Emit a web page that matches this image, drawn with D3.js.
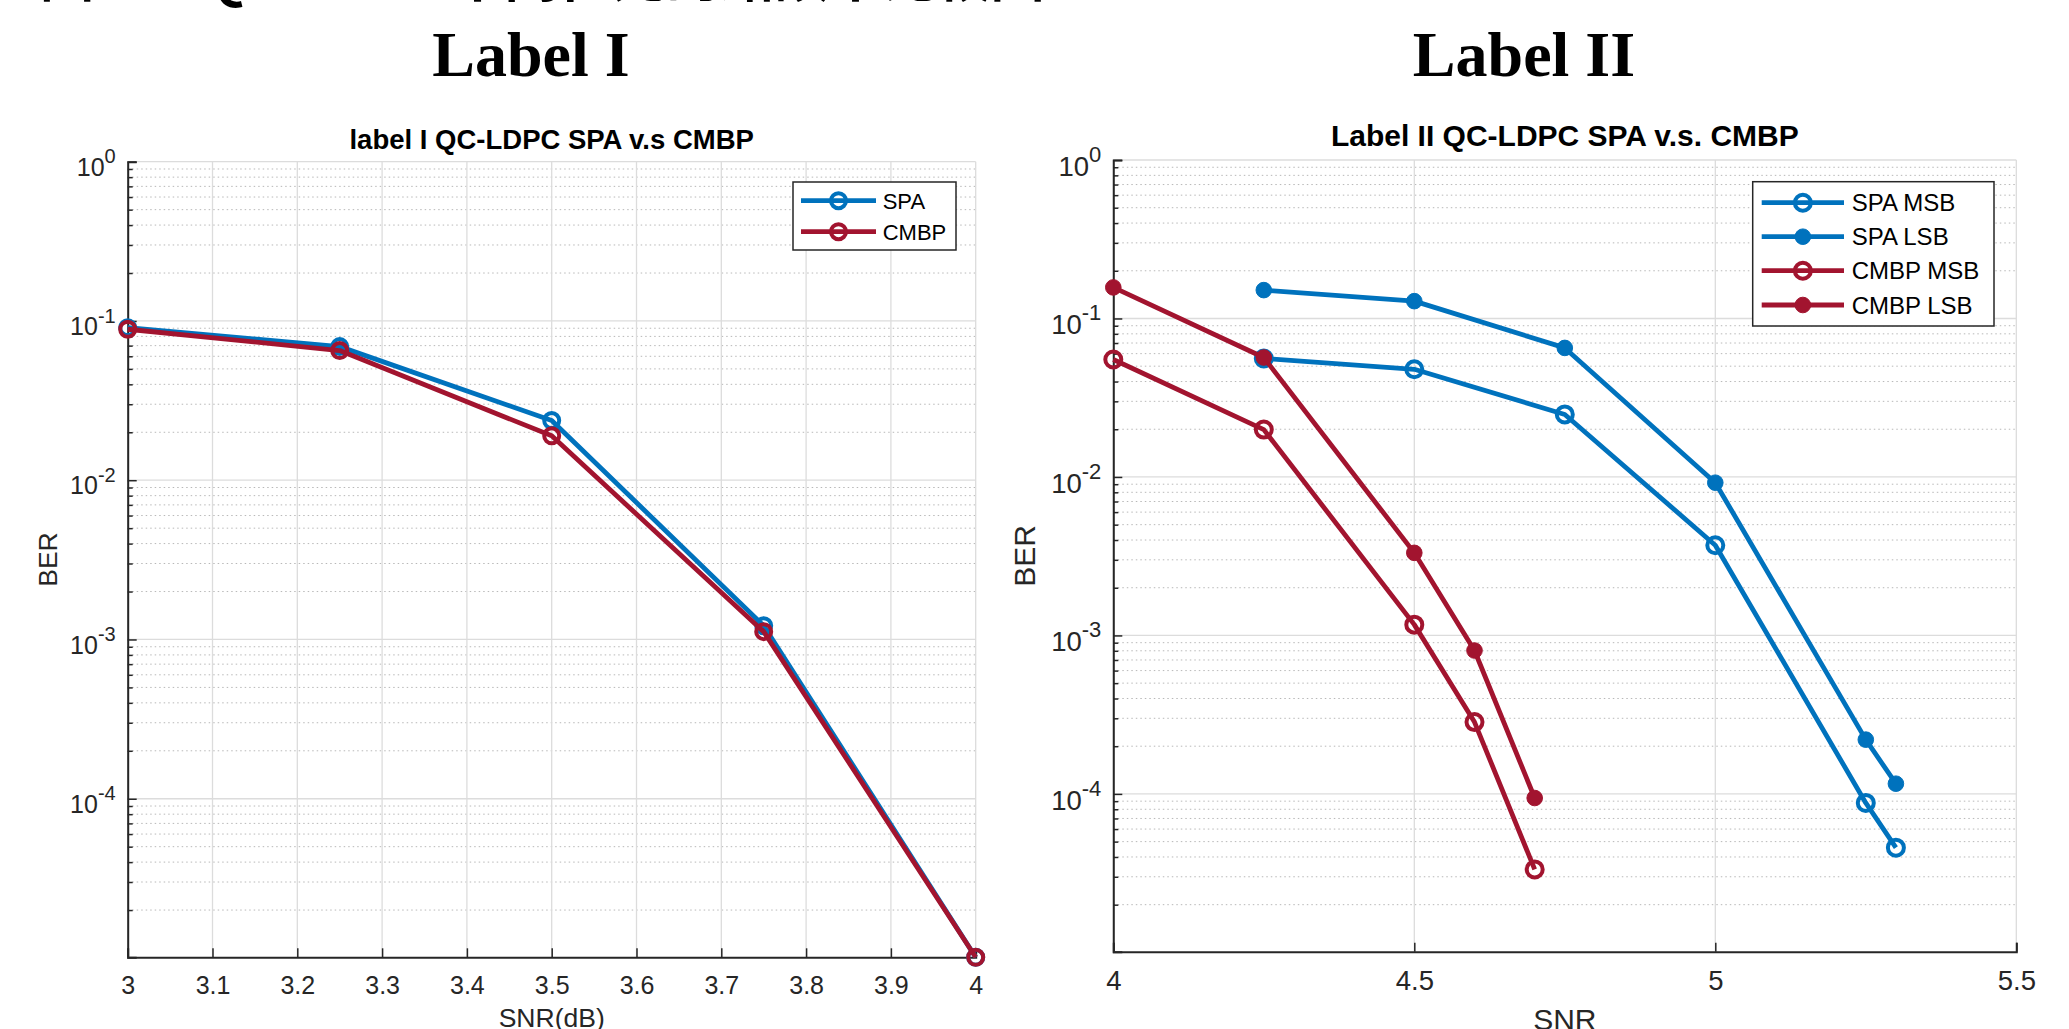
<!DOCTYPE html>
<html>
<head>
<meta charset="utf-8">
<script src="https://cdn.jsdelivr.net/npm/d3@7"></script>
<style>
  html, body { margin: 0; padding: 0; background: #fff; }
  svg { display: block; }
  .tick text { fill: #262626; }
</style>
</head>
<body>
<svg id="chart" width="2069" height="1029"></svg>
<script>
// ---- data ----
const leftSnr = [3, 3.25, 3.5, 3.75, 4];
const leftSpa = [0.0908, 0.0690, 0.0237, 1.22e-3, 1.01e-5];
const leftCmbp = [0.0887, 0.0652, 0.0190, 1.12e-3, 1.01e-5];
const leftXTicks = [3, 3.1, 3.2, 3.3, 3.4, 3.5, 3.6, 3.7, 3.8, 3.9, 4];

const spaSnr = [4.25, 4.5, 4.75, 5, 5.25, 5.3];
const spaMsb = [0.0559, 0.0478, 0.0248, 3.71e-3, 8.77e-5, 4.58e-5];
const spaLsb = [0.151, 0.1286, 0.0652, 9.2e-3, 2.2e-4, 1.16e-4];
const cmbpSnr = [4, 4.25, 4.5, 4.6, 4.7];
const cmbpMsb = [0.0551, 0.0199, 1.17e-3, 2.84e-4, 3.34e-5];
const cmbpLsb = [0.157, 0.0567, 3.32e-3, 8.03e-4, 9.42e-5];
const rightXTicks = [4, 4.5, 5, 5.5];

const berDomain = [1.01e-5, 1];
const decadeTicks = [1, 1e-1, 1e-2, 1e-3, 1e-4];

const BLUE = '#0072BD';
const RED = '#A2142F';
const INK = '#262626';
const SANS = 'Arial, "Liberation Sans", sans-serif';

const svg = d3.select('#chart');

// caption line that is cut off at the top edge of the page
svg.append('text')
  .attr('x', 40).attr('y', -3)
  .attr('font-family', '"Noto Sans CJK TC", "Liberation Serif", serif')
  .attr('font-weight', 700)
  .attr('font-size', 54)
  .attr('fill', '#000')
  .text('圖二、QC-LDPC 不同位元的錯誤率比較圖');

function drawPanel(opt) {
  const x = d3.scaleLinear().domain(opt.xDomain).range([opt.x0, opt.x1]);
  const y = d3.scaleLog().domain(berDomain).range([opt.y1, opt.y0]);
  const g = svg.append('g');

  // big header over the panel
  svg.append('text')
    .attr('x', opt.headerX).attr('y', 76)
    .attr('text-anchor', 'middle')
    .attr('font-family', '"Liberation Serif", "Times New Roman", serif')
    .attr('font-weight', 700)
    .attr('font-size', 64)
    .text(opt.header);

  // minor grid (dotted)
  const minors = [];
  decadeTicks.forEach(d => {
    for (let k = 2; k <= 9; k++) {
      const v = d * k / 10;
      if (v >= berDomain[0]) minors.push(v);
    }
  });
  g.append('g').selectAll('line').data(minors).join('line')
    .attr('x1', opt.x0).attr('x2', opt.x1)
    .attr('y1', d => y(d)).attr('y2', d => y(d))
    .attr('stroke', '#b8b8b8').attr('stroke-width', 1)
    .attr('stroke-dasharray', '1.5,3');

  // major grid
  g.append('g').selectAll('line').data(decadeTicks).join('line')
    .attr('x1', opt.x0).attr('x2', opt.x1)
    .attr('y1', d => y(d)).attr('y2', d => y(d))
    .attr('stroke', '#dcdcdc').attr('stroke-width', 1.3);
  g.append('g').selectAll('line').data(opt.xTicks).join('line')
    .attr('x1', d => x(d)).attr('x2', d => x(d))
    .attr('y1', opt.y0).attr('y2', opt.y1)
    .attr('stroke', '#dcdcdc').attr('stroke-width', 1.3);

  // x axis, ticks pointing inward
  const xAxis = g.append('g')
    .attr('transform', `translate(0,${opt.y1})`)
    .call(d3.axisBottom(x).tickValues(opt.xTicks).tickFormat(d3.format('')).tickSize(-9).tickPadding(opt.xPad));
  xAxis.select('.domain').attr('stroke', INK).attr('stroke-width', 2);
  xAxis.selectAll('.tick line').attr('stroke', INK).attr('stroke-width', 1.5);
  xAxis.selectAll('.tick text')
    .attr('font-family', SANS)
    .attr('font-size', opt.tickFont);

  // y axis minor ticks
  const yMinor = g.append('g')
    .attr('transform', `translate(${opt.x0},0)`)
    .call(d3.axisLeft(y).tickValues(minors).tickFormat('').tickSize(-5));
  yMinor.select('.domain').remove();
  yMinor.selectAll('.tick line').attr('stroke', INK).attr('stroke-width', 1.5);

  // y axis major ticks with 10^n labels
  const yAxis = g.append('g')
    .attr('transform', `translate(${opt.x0},0)`)
    .call(d3.axisLeft(y).tickValues(decadeTicks).tickFormat('').tickSize(-9));
  yAxis.select('.domain').attr('stroke', INK).attr('stroke-width', 2);
  yAxis.selectAll('.tick line').attr('stroke', INK).attr('stroke-width', 1.5);
  yAxis.selectAll('.tick text').each(function (d) {
    const t = d3.select(this)
      .attr('x', -opt.yPad).attr('dy', null).attr('y', opt.tickFont * 0.55)
      .attr('text-anchor', 'end')
      .attr('font-family', SANS)
      .attr('font-size', opt.tickFont);
    t.append('tspan').text('10');
    t.append('tspan')
      .attr('font-size', opt.tickFont * 0.8)
      .attr('dy', -opt.tickFont * 0.5)
      .text(Math.round(Math.log10(d)));
  });

  // title and axis labels
  svg.append('text')
    .attr('x', (opt.x0 + opt.x1) / 2).attr('y', opt.titleY)
    .attr('text-anchor', 'middle')
    .attr('font-family', SANS)
    .attr('font-weight', 700)
    .attr('font-size', opt.titleFont)
    .attr('fill', '#000')
    .text(opt.title);
  svg.append('text')
    .attr('x', (opt.x0 + opt.x1) / 2).attr('y', opt.xLabelY)
    .attr('text-anchor', 'middle')
    .attr('font-family', SANS)
    .attr('font-size', opt.labelFont)
    .attr('fill', INK)
    .text(opt.xLabel);
  svg.append('text')
    .attr('transform', `translate(${opt.yLabelX},${(opt.y0 + opt.y1) / 2}) rotate(-90)`)
    .attr('text-anchor', 'middle')
    .attr('font-family', SANS)
    .attr('font-size', opt.labelFont)
    .attr('fill', INK)
    .text('BER');

  // series
  const line = d3.line().x(d => x(d[0])).y(d => y(d[1]));
  opt.series.forEach(s => {
    const pts = s.x.map((v, i) => [v, s.y[i]]);
    const sg = g.append('g');
    sg.append('path').datum(pts)
      .attr('d', line)
      .attr('fill', 'none')
      .attr('stroke', s.color)
      .attr('stroke-width', 4.8)
      .attr('stroke-linejoin', 'round');
    sg.selectAll('circle').data(pts).join('circle')
      .attr('cx', d => x(d[0])).attr('cy', d => y(d[1]))
      .attr('r', s.filled ? opt.dotR : opt.ringR)
      .attr('fill', s.filled ? s.color : 'none')
      .attr('stroke', s.color)
      .attr('stroke-width', s.filled ? 1 : 4);
  });

  // legend
  const lg = svg.append('g');
  lg.append('rect')
    .attr('x', opt.legend.x0).attr('y', opt.legend.y0)
    .attr('width', opt.legend.x1 - opt.legend.x0)
    .attr('height', opt.legend.y1 - opt.legend.y0)
    .attr('fill', '#fff').attr('stroke', INK).attr('stroke-width', 1.5);
  opt.series.forEach((s, i) => {
    const ry = opt.legend.rows[i];
    lg.append('line')
      .attr('x1', opt.legend.lx0).attr('x2', opt.legend.lx1)
      .attr('y1', ry).attr('y2', ry)
      .attr('stroke', s.color).attr('stroke-width', 4.8);
    lg.append('circle')
      .attr('cx', (opt.legend.lx0 + opt.legend.lx1) / 2).attr('cy', ry)
      .attr('r', s.filled ? opt.dotR : opt.ringR)
      .attr('fill', s.filled ? s.color : 'none')
      .attr('stroke', s.color)
      .attr('stroke-width', s.filled ? 1 : 4);
    lg.append('text')
      .attr('x', opt.legend.tx).attr('y', ry + opt.legendFont * 0.36)
      .attr('font-family', SANS)
      .attr('font-size', opt.legendFont)
      .attr('fill', '#000')
      .text(s.name);
  });
}

drawPanel({
  header: 'Label I', headerX: 531,
  title: 'label I QC-LDPC SPA v.s CMBP', titleY: 149, titleFont: 27.5,
  xLabel: 'SNR(dB)', xLabelY: 1027, yLabelX: 57,
  xDomain: [3, 4], xTicks: leftXTicks,
  x0: 127.7, x1: 975.7, y0: 161.7, y1: 957.3,
  tickFont: 25, labelFont: 26.5, xPad: 18.5, yPad: 12,
  ringR: 7.5, dotR: 7.5, legendFont: 22,
  series: [
    { name: 'SPA', x: leftSnr, y: leftSpa, color: BLUE, filled: false },
    { name: 'CMBP', x: leftSnr, y: leftCmbp, color: RED, filled: false }
  ],
  legend: { x0: 793, x1: 956, y0: 182, y1: 250, rows: [200.7, 231.7], lx0: 801, lx1: 876, tx: 882.7 }
});

drawPanel({
  header: 'Label II', headerX: 1524,
  title: 'Label II QC-LDPC SPA v.s. CMBP', titleY: 146, titleFont: 30,
  xLabel: 'SNR', xLabelY: 1030, yLabelX: 1035,
  xDomain: [4, 5.5], xTicks: rightXTicks,
  x0: 1113.3, x1: 2016.3, y0: 160, y1: 951.7,
  tickFont: 27.5, labelFont: 30, xPad: 19, yPad: 12,
  ringR: 8, dotR: 7.8, legendFont: 24,
  series: [
    { name: 'SPA MSB', x: spaSnr, y: spaMsb, color: BLUE, filled: false },
    { name: 'SPA LSB', x: spaSnr, y: spaLsb, color: BLUE, filled: true },
    { name: 'CMBP MSB', x: cmbpSnr, y: cmbpMsb, color: RED, filled: false },
    { name: 'CMBP LSB', x: cmbpSnr, y: cmbpLsb, color: RED, filled: true }
  ],
  legend: { x0: 1752.7, x1: 1994, y0: 181.7, y1: 326, rows: [202.7, 236.7, 270.7, 305], lx0: 1761.7, lx1: 1844, tx: 1851.7 }
});
</script>
</body>
</html>
